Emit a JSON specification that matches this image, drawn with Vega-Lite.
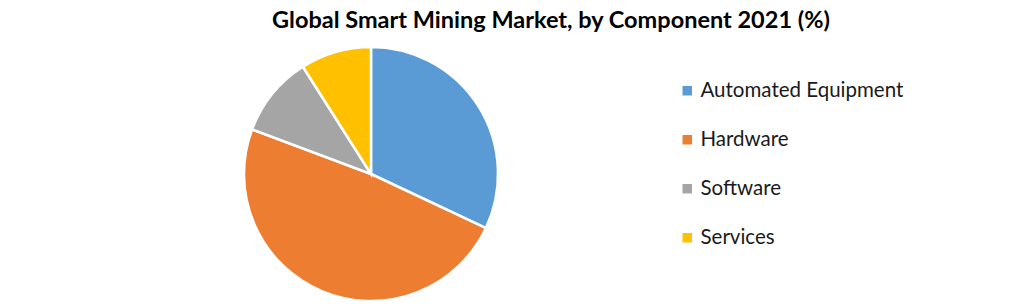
{
  "$schema": "https://vega.github.io/schema/vega-lite/v6.json",
  "autosize": {"type": "none"},
  "width": 256,
  "height": 256,
  "padding": {"left": 243, "top": 46, "right": 522, "bottom": 2},
  "background": "white",
  "title": {
    "text": "Global Smart Mining Market, by Component 2021 (%)",
    "font": "Lato",
    "fontSize": 23.5,
    "fontWeight": "bold",
    "color": "#000000",
    "anchor": "middle",
    "dx": 180,
    "offset": 10,
    "limit": 1000
  },
  "data": {
    "values": [
      {"component": "Automated Equipment", "share": 32.0, "idx": 1},
      {"component": "Hardware", "share": 48.7, "idx": 2},
      {"component": "Software", "share": 10.3, "idx": 3},
      {"component": "Services", "share": 9.0, "idx": 4}
    ]
  },
  "mark": {"type": "arc", "stroke": "white", "strokeWidth": 2.5, "outerRadius": 127},
  "encoding": {
    "theta": {"field": "share", "type": "quantitative", "stack": true},
    "order": {"field": "idx", "type": "quantitative"},
    "color": {
      "field": "component",
      "type": "nominal",
      "sort": ["Automated Equipment", "Hardware", "Software", "Services"],
      "scale": {
        "domain": ["Automated Equipment", "Hardware", "Software", "Services"],
        "range": ["#5B9BD5", "#ED7D31", "#A5A5A5", "#FFC000"]
      },
      "legend": {
        "title": null,
        "orient": "none",
        "legendX": 434,
        "legendY": 34.5,
        "symbolType": "square",
        "symbolSize": 90,
        "symbolStrokeWidth": 0,
        "labelFont": "Lato",
        "labelFontSize": 20.5,
        "labelColor": "#1a1a1a",
        "labelOffset": 3,
        "rowPadding": 28,
        "labelLimit": 400,
        "padding": 0
      }
    }
  },
  "config": {"view": {"stroke": null}}
}
